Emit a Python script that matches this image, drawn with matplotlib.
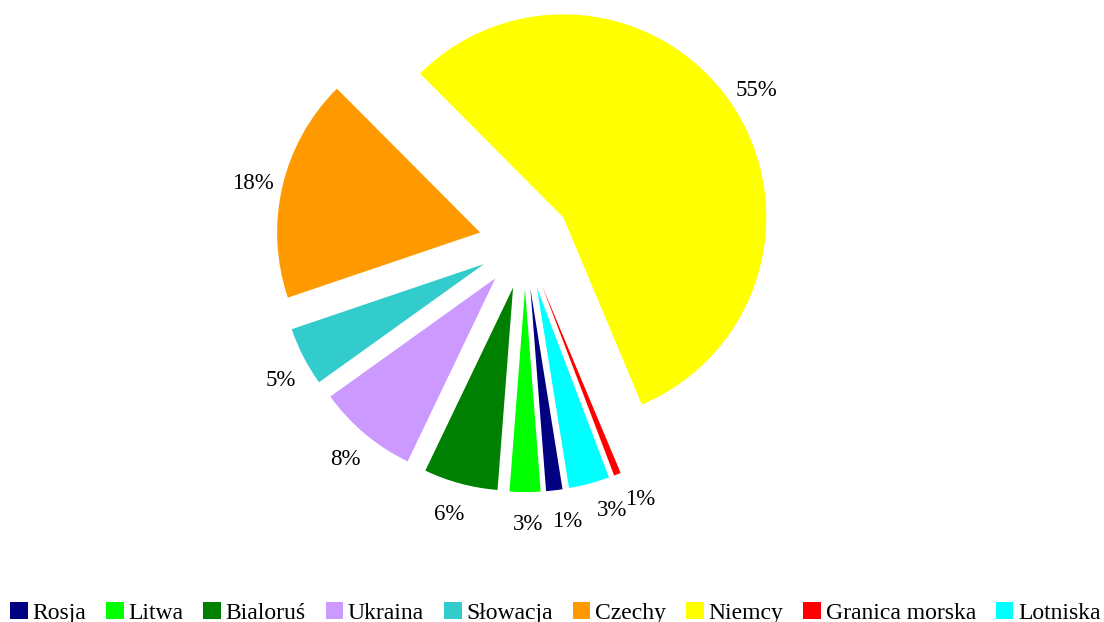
import matplotlib
matplotlib.use("Agg")
import numpy as np
import matplotlib.pyplot as plt
from matplotlib.patches import Patch

categories = ["Rosja", "Litwa", "Bialoruś", "Ukraina", "Słowacja", "Czechy",
              "Niemcy", "Granica morska", "Lotniska"]
values = [1.3, 2.45, 5.9, 8.0, 4.7, 17.75, 56.2, 0.55, 3.25]
pct_labels = ["1%", "3%", "6%", "8%", "5%", "18%", "55%", "1%", "3%"]
colors = ["#000080", "#00FF00", "#008000", "#CC99FF", "#33CCCC", "#FF9900",
          "#FFFF00", "#FF0000", "#00FFFF"]
# small angular nudges (degrees) of the outside labels, as in the original layout
label_nudge = [2.2, 0.7, -1.0, 0.0, 2.0, 0.5, 0.0, 3.0, 3.8]

plt.rcParams['font.family'] = ['Liberation Serif', 'DejaVu Serif']

W, H = 1104, 622
fig = plt.figure(figsize=(W / 100, H / 100), dpi=100)
ax = fig.add_axes([0, 0, 1, 1])

R = 203.0  # radius in px
cx, cy = 525.0, 243.0  # pie centre in px (from top)

wedges, _ = ax.pie(
    values, colors=colors, startangle=-80.9, counterclock=False,
    explode=[0.227] * len(values), radius=1.0, center=(0, 0),
    wedgeprops=dict(linewidth=0),
)

for w, lab, nd in zip(wedges, pct_labels, label_nudge):
    th = np.deg2rad(0.5 * (w.theta1 + w.theta2) + nd)
    x = w.center[0] + 1.148 * w.r * np.cos(th)
    y = w.center[1] + 1.148 * w.r * np.sin(th) - 2.5 / R
    ax.text(x, y, lab, ha='center', va='center', fontsize=16.5, color='black')

ax.set_xlim(-cx / R, (W - cx) / R)
ax.set_ylim(-(H - cy) / R, cy / R)
ax.set_aspect('auto')
ax.axis('off')

handles = [Patch(facecolor=c, edgecolor='none') for c in colors]
fig.legend(handles, categories, loc='center', bbox_to_anchor=(0.503, 0.015),
           ncol=len(categories), frameon=False, fontsize=17,
           handlelength=0.74, handleheight=0.74, handletextpad=0.2,
           columnspacing=0.85, borderpad=0.1)

fig.savefig("out.png", dpi=100)
